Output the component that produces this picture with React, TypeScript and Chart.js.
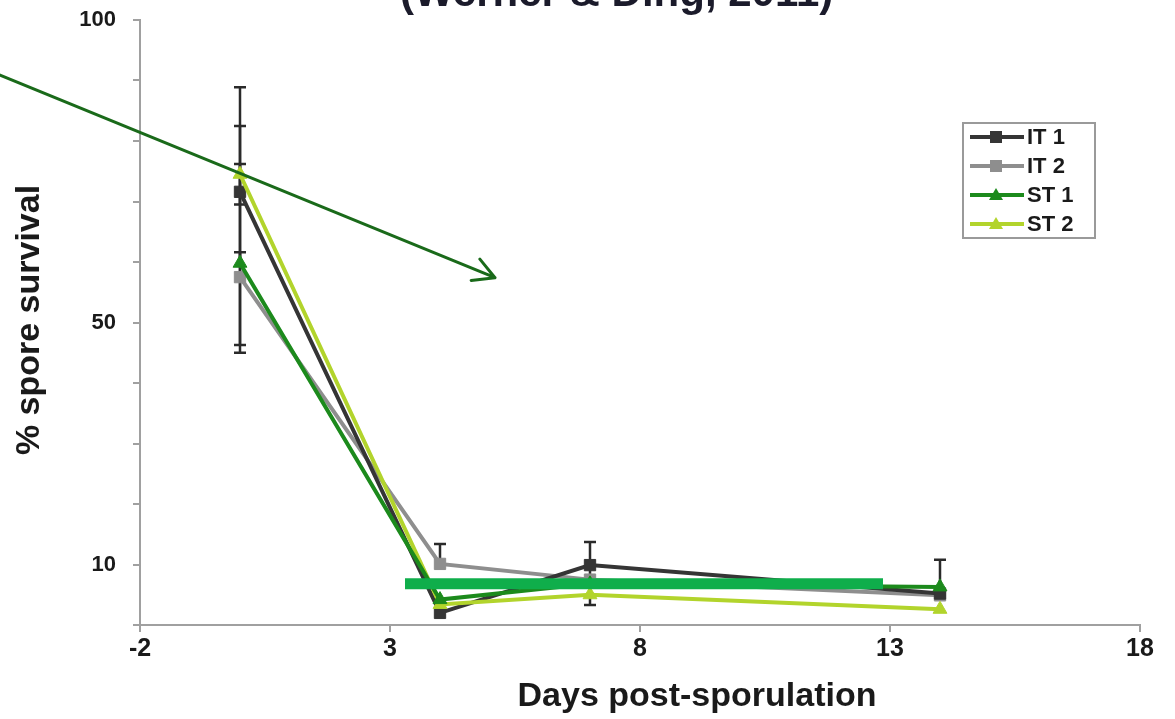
import React, { useEffect, useRef } from "react";
import { Chart, registerables } from "chart.js";

Chart.register(...registerables);

// ---- data ----
const days = [0, 4, 7, 14];
const seriesNames = ["IT 1", "IT 2", "ST 1", "ST 2"];
const it1 = [71.6, 2.0, 9.9, 5.2];
const it2 = [57.5, 10.1, 7.5, 4.9];
const st1 = [59.8, 4.2, 6.8, 6.3];
const st2 = [74.5, 3.4, 5.0, 2.6];
const it1ErrUp = [17.3, 0, 3.8, 0];
const it1ErrDown = [25.3, 0, 6.6, 0];
const it2ErrUp = [25.0, 3.3, 0, 0];
const it2ErrDown = [12.5, 0, 0, 0];
const st1ErrUp = [1.8, 0, 0, 4.5];
const st1ErrDown = [0, 0, 0, 0];
const st2ErrUp = [1.7, 0, 0, 0];
const st2ErrDown = [5.0, 0, 0, 0];
const xTickValues = [-2, 3, 8, 13, 18];
const yTickLabels = [10, 50, 100];
const titleText = "(Werner & Ding, 2011)";
const xTitle = "Days post-sporulation";
const yTitle = "% spore survival";
// annotation (data coordinates)
const arrowStart = { x: -4.8, y: 90.9 };
const arrowEnd = { x: 5.1, y: 57.4 };
const barStart = { x: 3.3, y: 6.8 };
const barEnd = { x: 12.86, y: 6.8 };

const colors = ["#353535", "#8e8e8e", "#1c8a1c", "#b2d42c"];
const pointStyles = ["rect", "rect", "triangle", "triangle"];
const seriesValues = [it1, it2, st1, st2];
const errUps = [it1ErrUp, it2ErrUp, st1ErrUp, st2ErrUp];
const errDowns = [it1ErrDown, it2ErrDown, st1ErrDown, st2ErrDown];
const drawOrder = [2, 3, 0, 1];

const FONT = '"Liberation Sans", Arial, sans-serif';

const overlayPlugin = {
  id: "overlay",
  beforeDatasetsDraw(chart: any) {
    const ctx = chart.ctx;
    const ys = chart.scales.y;
    ctx.save();
    ctx.strokeStyle = "#2a2a2a";
    ctx.lineWidth = 2.5;
    seriesValues.forEach((vals, si) => {
      const meta = chart.getDatasetMeta(si);
      vals.forEach((v, i) => {
        const up = errUps[si][i];
        const dn = errDowns[si][i];
        const x = meta.data[i].x;
        const cap = 6;
        const parts: number[] = [];
        if (up > 0) parts.push(v + up);
        if (dn > 0) parts.push(v - dn);
        parts.forEach((end) => {
          const y0 = ys.getPixelForValue(v);
          const y1 = ys.getPixelForValue(end);
          ctx.beginPath();
          ctx.moveTo(x, y0);
          ctx.lineTo(x, y1);
          ctx.moveTo(x - cap, y1);
          ctx.lineTo(x + cap, y1);
          ctx.stroke();
        });
      });
    });
    ctx.restore();
  },
  afterDraw(chart: any) {
    const ctx = chart.ctx;
    const xs = chart.scales.x;
    const ys = chart.scales.y;
    ctx.save();

    // green horizontal bar annotation
    ctx.strokeStyle = "#0fae4b";
    ctx.lineWidth = 11;
    ctx.lineCap = "butt";
    ctx.beginPath();
    ctx.moveTo(xs.getPixelForValue(barStart.x), ys.getPixelForValue(barStart.y));
    ctx.lineTo(xs.getPixelForValue(barEnd.x), ys.getPixelForValue(barEnd.y));
    ctx.stroke();

    // arrow annotation
    const ax0 = xs.getPixelForValue(arrowStart.x);
    const ay0 = ys.getPixelForValue(arrowStart.y);
    const ax1 = xs.getPixelForValue(arrowEnd.x);
    const ay1 = ys.getPixelForValue(arrowEnd.y);
    ctx.strokeStyle = "#1a6a1a";
    ctx.lineWidth = 3;
    ctx.lineCap = "round";
    ctx.beginPath();
    ctx.moveTo(ax0, ay0);
    ctx.lineTo(ax1, ay1);
    const ang = Math.atan2(ay1 - ay0, ax1 - ax0);
    const hl = 24;
    ctx.moveTo(ax1, ay1);
    ctx.lineTo(ax1 - hl * Math.cos(ang - 0.5), ay1 - hl * Math.sin(ang - 0.5));
    ctx.moveTo(ax1, ay1);
    ctx.lineTo(ax1 - hl * Math.cos(ang + 0.5), ay1 - hl * Math.sin(ang + 0.5));
    ctx.stroke();

    // legend
    const lx = 963, ly = 123, lw = 132, lh = 115;
    ctx.fillStyle = "#ffffff";
    ctx.fillRect(lx, ly, lw, lh);
    ctx.strokeStyle = "#9a9a9a";
    ctx.lineWidth = 2;
    ctx.strokeRect(lx, ly, lw, lh);
    seriesNames.forEach((name, i) => {
      const cy = 137 + i * 29;
      ctx.strokeStyle = colors[i];
      ctx.fillStyle = colors[i];
      ctx.lineWidth = 4;
      ctx.lineCap = "butt";
      ctx.beginPath();
      ctx.moveTo(970, cy);
      ctx.lineTo(1024, cy);
      ctx.stroke();
      if (pointStyles[i] === "rect") {
        ctx.fillRect(990, cy - 6, 12, 12);
      } else {
        ctx.beginPath();
        ctx.moveTo(996, cy - 7);
        ctx.lineTo(1003, cy + 5);
        ctx.lineTo(989, cy + 5);
        ctx.closePath();
        ctx.fill();
      }
      ctx.fillStyle = "#1a1a1a";
      ctx.font = `bold 22px ${FONT}`;
      ctx.textAlign = "left";
      ctx.textBaseline = "middle";
      ctx.fillText(name, 1027, cy + 1);
    });

    // chart title (partly cut off at top)
    ctx.fillStyle = "#1b1b2b";
    ctx.font = `bold 42px ${FONT}`;
    ctx.textAlign = "left";
    ctx.textBaseline = "alphabetic";
    ctx.fillText(titleText, 400, 6);

    // x axis title
    ctx.fillStyle = "#1a1a1a";
    ctx.font = `bold 34px ${FONT}`;
    ctx.textAlign = "center";
    ctx.textBaseline = "alphabetic";
    ctx.fillText(xTitle, 697, 706);

    // y axis title
    ctx.translate(30, 320);
    ctx.rotate(-Math.PI / 2);
    ctx.font = `bold 34px ${FONT}`;
    ctx.textAlign = "center";
    ctx.textBaseline = "middle";
    ctx.fillText(yTitle, 0, 0);
    ctx.restore();
  },
};

export default function App() {
  const canvasRef = useRef<HTMLCanvasElement | null>(null);

  useEffect(() => {
    const canvas = canvasRef.current;
    if (!canvas) return;
    const datasets = seriesNames.map((name, si) => ({
      label: name,
      data: days.map((d, i) => ({ x: d, y: seriesValues[si][i] })),
      borderColor: colors[si],
      backgroundColor: colors[si],
      pointBackgroundColor: colors[si],
      pointBorderColor: colors[si],
      borderWidth: 4,
      pointStyle: pointStyles[si],
      pointRadius: 8,
      pointBorderWidth: 1,
      tension: 0,
      order: drawOrder[si],
      clip: false as any,
    }));

    const chart = new Chart(canvas, {
      type: "line",
      data: { datasets },
      options: {
        animation: false,
        responsive: false,
        maintainAspectRatio: false,
        layout: { autoPadding: false, padding: { top: 20, right: 35, left: 0, bottom: 0 } },
        plugins: {
          legend: { display: false },
          tooltip: { enabled: false },
          title: { display: false },
        },
        scales: {
          x: {
            type: "linear",
            min: -2,
            max: 18,
            afterFit: (s: any) => {
              s.height = 94;
              s.paddingLeft = 0;
              s.paddingRight = 0;
            },
            afterBuildTicks: (s: any) => {
              s.ticks = xTickValues.map((v) => ({ value: v }));
            },
            ticks: {
              color: "#1a1a1a",
              font: { family: FONT, size: 25, weight: "bold" },
              padding: 2,
              maxRotation: 0,
              autoSkip: false,
            },
            grid: {
              drawOnChartArea: false,
              drawTicks: true,
              tickLength: 7,
              color: "#a0a0a0",
              lineWidth: 2,
            },
            border: { color: "#a0a0a0", width: 2 },
          },
          y: {
            type: "linear",
            min: 0,
            max: 100,
            afterFit: (s: any) => {
              s.width = 140;
              s.paddingTop = 0;
              s.paddingBottom = 0;
            },
            ticks: {
              stepSize: 10,
              color: "#1a1a1a",
              font: { family: FONT, size: 22, weight: "bold" },
              padding: 17,
              autoSkip: false,
              callback: (v: any) => (yTickLabels.includes(Number(v)) ? String(v) : ""),
            },
            grid: {
              drawOnChartArea: false,
              drawTicks: true,
              tickLength: 7,
              color: "#a0a0a0",
              lineWidth: 2,
            },
            border: { color: "#a0a0a0", width: 2 },
          },
        },
      } as any,
      plugins: [overlayPlugin],
    });
    return () => chart.destroy();
  }, []);

  return (
    <div style={{ position: "absolute", left: 0, top: 0, width: 1175, height: 719, background: "#fff" }}>
      <canvas ref={canvasRef} width={1175} height={719} style={{ display: "block" }} />
    </div>
  );
}
